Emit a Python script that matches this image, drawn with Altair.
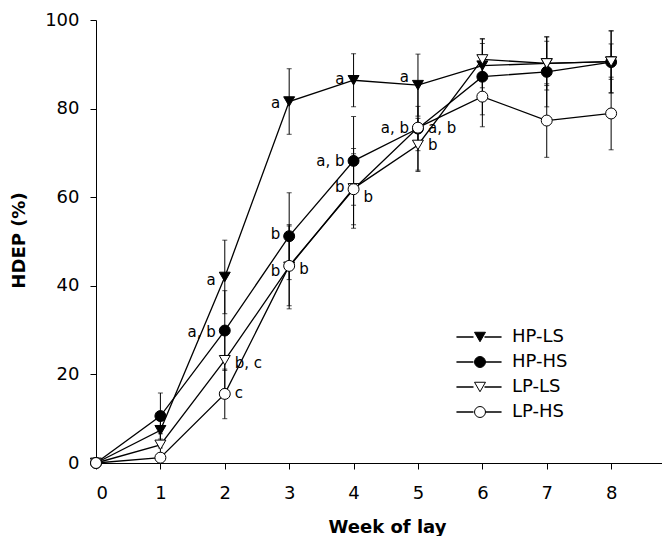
import altair as alt
import pandas as pd

weeks = [0, 1, 2, 3, 4, 5, 6, 7, 8]
series_names = ["HP-LS", "HP-HS", "LP-LS", "LP-HS"]

hp_ls = [0, 7.4, 42.0, 81.6, 86.4, 85.3, 89.7, 90.2, 90.6]
hp_ls_se = [0, 4.0, 8.3, 7.4, 6.0, 7.0, 5.0, 6.0, 7.0]
hp_hs = [0, 10.6, 29.9, 51.2, 68.2, 75.5, 87.2, 88.3, 90.5]
hp_hs_se = [0, 5.2, 9.0, 9.8, 10.0, 5.0, 8.6, 7.9, 7.0]
lp_ls = [0, 4.1, 23.2, 44.3, 62.0, 71.8, 91.1, 90.2, 90.6]
lp_ls_se = [0, 2.5, 6.5, 9.5, 9.0, 6.0, 4.6, 5.0, 4.0]
lp_hs = [0, 1.2, 15.6, 44.5, 61.8, 75.7, 82.7, 77.3, 78.9]
lp_hs_se = [0, 1.0, 5.6, 9.0, 8.0, 9.6, 6.8, 8.3, 8.2]

# significance letters placed left of a point
left_week = [2, 2, 3, 3, 3, 4, 4, 4, 5, 5]
left_val = [41.3, 29.6, 81.2, 51.6, 43.4, 86.7, 68.2, 62.4, 87.1, 75.7]
left_text = ["a", "a, b", "a", "b", "b", "a", "a, b", "b", "a", "a, b"]
# significance letters placed right of a point
right_week = [2, 2, 3, 4, 5, 5]
right_val = [22.5, 15.9, 43.7, 60.1, 75.7, 71.8]
right_text = ["b, c", "c", "b", "b", "a, b", "b"]

line_keys = [s + " line" for s in series_names]

values = [hp_ls, hp_hs, lp_ls, lp_hs]
errors = [hp_ls_se, hp_hs_se, lp_ls_se, lp_hs_se]
rows = []
for name, lk, vals, errs in zip(series_names, line_keys, values, errors):
    for w, v, e in zip(weeks, vals, errs):
        rows.append({"week": w, "hdep": v, "lo": v - e, "hi": v + e,
                     "series": name, "line_key": lk})
df = pd.DataFrame(rows)
left_df = pd.DataFrame({"week": left_week, "val": left_val, "txt": left_text})
right_df = pd.DataFrame({"week": right_week, "val": right_val, "txt": right_text})

FONT = "DejaVu Sans"
x_scale = alt.Scale(domain=[0, 8.79], nice=False, zero=False)
y_scale = alt.Scale(domain=[0, 100], nice=False)

x_axis = alt.Axis(values=weeks, format="d", title="Week of lay", tickSize=6, labelPadding=15,
                  labelFontSize=18, labelFont=FONT, titleFontSize=18, titleFont=FONT,
                  titleFontWeight="bold", titleX=291, titleY=69,
                  titleBaseline="alphabetic", titleAlign="center", grid=False,
                  domainColor="black", tickColor="black", labelColor="black",
                  titleColor="black")
y_axis = alt.Axis(values=[0, 20, 40, 60, 80, 100], format="d", title="HDEP (%)", tickSize=6,
                  labelPadding=11, labelFontSize=18, labelFont=FONT, titleFontSize=18,
                  titleFont=FONT, titleFontWeight="bold", titleX=-77, titleY=220,
                  titleBaseline="middle", titleAlign="center", grid=False,
                  domainColor="black", tickColor="black", labelColor="black",
                  titleColor="black")

base = alt.Chart(df)

lines = base.mark_line(strokeWidth=1.3).encode(
    x=alt.X("week:Q", scale=x_scale, axis=x_axis),
    y=alt.Y("hdep:Q", scale=y_scale, axis=y_axis),
    color=alt.Color("line_key:N", sort=line_keys,
                    scale=alt.Scale(domain=line_keys, range=["black"] * 4),
                    legend=alt.Legend(orient="none", legendX=374, legendY=308, title=None,
                                      symbolType="M-4.1,0L-1,0M1,0L4.1,0", symbolSize=121,
                                      symbolStrokeWidth=1.3, symbolOpacity=1,
                                      symbolStrokeColor="black", labelExpr="''",
                                      labelFontSize=18, labelFont=FONT, rowPadding=7)),
)

rules = base.mark_rule(color="black", strokeWidth=1).encode(
    x="week:Q", y="lo:Q", y2="hi:Q")
caps_lo = base.mark_tick(color="black", orient="horizontal", size=5, thickness=1).encode(
    x="week:Q", y="lo:Q")
caps_hi = base.mark_tick(color="black", orient="horizontal", size=5, thickness=1).encode(
    x="week:Q", y="hi:Q")

pt_legend = alt.Legend(orient="none", legendX=375, legendY=308, title=None,
                       labelFontSize=18, labelFont=FONT, labelColor="black",
                       rowPadding=7, labelOffset=23, symbolSize=120, symbolOpacity=1,
                       symbolStrokeColor="black", symbolStrokeWidth=1)
points = base.mark_point(filled=True, size=120, strokeWidth=1, opacity=1).encode(
    x="week:Q",
    y="hdep:Q",
    shape=alt.Shape("series:N", sort=series_names,
                    scale=alt.Scale(domain=series_names,
                                    range=["triangle-down", "circle", "triangle-down", "circle"]),
                    legend=pt_legend),
    fill=alt.Fill("series:N", sort=series_names,
                  scale=alt.Scale(domain=series_names,
                                  range=["black", "black", "white", "white"]),
                  legend=pt_legend),
    stroke=alt.Stroke("series:N", sort=series_names,
                      scale=alt.Scale(domain=series_names, range=["black"] * 4),
                      legend=pt_legend),
)

left_txt = alt.Chart(left_df).mark_text(align="right", baseline="middle", dx=-9,
                                        fontSize=15, font=FONT, color="black").encode(
    x="week:Q", y="val:Q", text="txt:N")
right_txt = alt.Chart(right_df).mark_text(align="left", baseline="middle", dx=10,
                                          fontSize=15, font=FONT, color="black").encode(
    x="week:Q", y="val:Q", text="txt:N")

chart = alt.layer(lines, rules, caps_lo, caps_hi, points, left_txt, right_txt).properties(
    width=566, height=443,
    autosize=alt.AutoSizeParams(type="none"),
    padding={"left": 88, "top": 12, "right": 0, "bottom": 73},
).configure_view(stroke=None).configure_axis(domainWidth=1, tickWidth=1)

chart.save("out.html", embed_options={"renderer": "svg", "actions": False})
